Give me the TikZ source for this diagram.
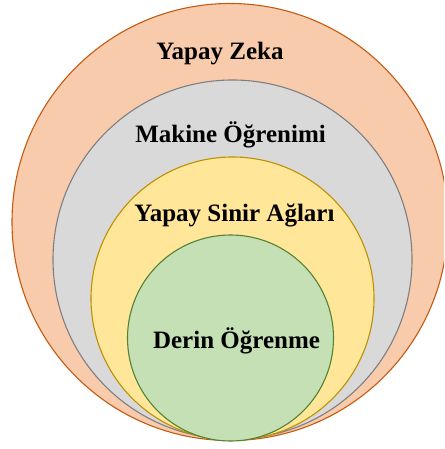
\documentclass[tikz,border=0pt]{standalone}
\usepackage{fontspec}
\setmainfont{Liberation Serif}
\definecolor{aiF}{HTML}{F8CBAD}\definecolor{aiD}{HTML}{C55A11}
\definecolor{mlF}{HTML}{D9D9D9}\definecolor{mlD}{HTML}{7F7F7F}
\definecolor{nnF}{HTML}{FFE699}\definecolor{nnD}{HTML}{BF9000}
\definecolor{dlF}{HTML}{C5E0B4}\definecolor{dlD}{HTML}{548235}
\tikzset{ring/.style={line width=1.1pt},
  lbl/.style={anchor=base,inner sep=0pt,font=\fontsize{25}{29}\selectfont\bfseries}}
\begin{document}
\begin{tikzpicture}[x=1pt,y=-1pt]
\useasboundingbox (0,0) rectangle (444,449);
\clip (0,0) rectangle (444,449);
\fill[white] (0,0) rectangle (444,449);
\draw[ring,fill=aiF,draw=aiD] (230,222) ellipse [x radius=218,y radius=218.5];
\draw[ring,fill=mlF,draw=mlD] (232.5,259.5) circle [radius=179.5];
\draw[ring,fill=nnF,draw=nnD] (232.5,298.5) circle [radius=141.5];
\draw[ring,fill=dlF,draw=dlD] (230.5,338) circle [radius=103];
\node[lbl] (ai) at (220,60) {Yapay Zeka};
\node[lbl] (ml) at (230.5,142.5) {Makine Öğrenimi};
\node[lbl] (nn) at (234.5,221) {Yapay Sinir Ağları};
\node[lbl] (dl) at (236.5,348) {Derin Öğrenme};
\end{tikzpicture}
\end{document}
